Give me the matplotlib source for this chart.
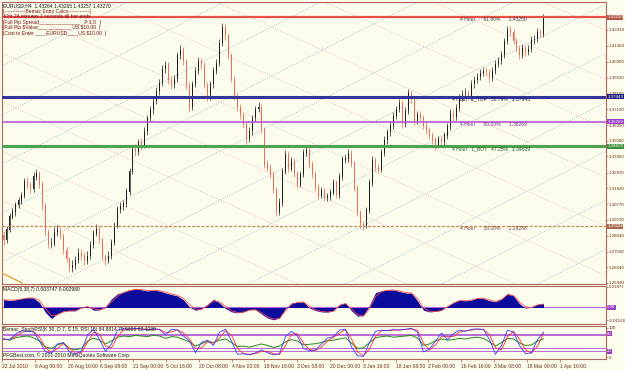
import matplotlib
matplotlib.use('Agg')
import matplotlib.pyplot as plt
import numpy as np

plt.rcParams['font.family'] = ['Liberation Sans', 'DejaVu Sans']

W, H = 625, 370
BG = '#FCFCEC'
FRAME = '#B0675C'
TXT = '#6E2A20'
FS = 3.6
FSR = 3.15

# ---------------- price data (reduced H4 bars) ----------------
first_open = 1.2870
closes = [1.2838, 1.2905, 1.2992, 1.3025, 1.3072, 1.3099, 1.3133, 1.3227, 1.3200, 1.3180,
          1.3260, 1.3280, 1.3207, 1.3072, 1.2891, 1.2811, 1.2811, 1.2891, 1.2898, 1.2864,
          1.2770, 1.2710, 1.2650, 1.2670, 1.2703, 1.2750, 1.2730, 1.2697, 1.2730, 1.2804,
          1.2878, 1.2911, 1.2838, 1.2724, 1.2697, 1.2730, 1.2818, 1.2932, 1.3039, 1.3059,
          1.3079, 1.3160, 1.3294, 1.3442, 1.3428, 1.3489, 1.3468, 1.3562, 1.3650, 1.3703,
          1.3764, 1.3831, 1.3884, 1.3978, 1.4005, 1.3904, 1.3871, 1.3911, 1.4072, 1.4106,
          1.4032, 1.3871, 1.3723, 1.3878, 1.3965, 1.4032, 1.4005, 1.3871, 1.3790, 1.3878,
          1.3965, 1.4019, 1.4153, 1.4260, 1.4200, 1.4072, 1.3911, 1.3797, 1.3723, 1.3670,
          1.3609, 1.3509, 1.3562, 1.3650, 1.3710, 1.3723, 1.3576, 1.3341, 1.3321, 1.3274,
          1.3173, 1.3025, 1.3086, 1.3294, 1.3408, 1.3314, 1.3361, 1.3280, 1.3207, 1.3274,
          1.3421, 1.3435, 1.3341, 1.3274, 1.3186, 1.3133, 1.3166, 1.3119, 1.3126, 1.3153,
          1.3220, 1.3139, 1.3260, 1.3374, 1.3381, 1.3415, 1.3347, 1.3186, 1.3019, 1.2938,
          1.2932, 1.3039, 1.3220, 1.3368, 1.3321, 1.3307, 1.3421, 1.3502, 1.3556, 1.3602,
          1.3663, 1.3710, 1.3750, 1.3609, 1.3697, 1.3817, 1.3777, 1.3629, 1.3676, 1.3650,
          1.3602, 1.3569, 1.3535, 1.3502, 1.3468, 1.3509, 1.3489, 1.3535, 1.3596, 1.3683,
          1.3656, 1.3717, 1.3784, 1.3811, 1.3817, 1.3790, 1.3878, 1.3904, 1.3925, 1.3952,
          1.3965, 1.3958, 1.3918, 1.3965, 1.4012, 1.4032, 1.4072, 1.4166, 1.4240, 1.4227,
          1.4166, 1.4119, 1.4072, 1.4119, 1.4092, 1.4113, 1.4173, 1.4180, 1.4227, 1.4213,
          1.4327]
highs = [1.2895, 1.2930, 1.3015, 1.3050, 1.3090, 1.3125, 1.3160, 1.3250, 1.3255, 1.3225,
         1.3290, 1.3310, 1.3300, 1.3230, 1.3085, 1.2910, 1.2850, 1.2920, 1.2935, 1.2920,
         1.2880, 1.2790, 1.2725, 1.2700, 1.2730, 1.2780, 1.2775, 1.2755, 1.2760, 1.2830,
         1.2905, 1.2945, 1.2930, 1.2855, 1.2745, 1.2760, 1.2840, 1.2955, 1.3065, 1.3090,
         1.3105, 1.3185, 1.3320, 1.3470, 1.3475, 1.3515, 1.3520, 1.3590, 1.3675, 1.3730,
         1.3790, 1.3860, 1.3910, 1.4005, 1.4035, 1.4025, 1.3930, 1.3940, 1.4095, 1.4140,
         1.4125, 1.4050, 1.3890, 1.3900, 1.3990, 1.4060, 1.4055, 1.4025, 1.3895, 1.3900,
         1.3990, 1.4045, 1.4180, 1.4285, 1.4280, 1.4220, 1.4090, 1.3935, 1.3820, 1.3745,
         1.3690, 1.3630, 1.3590, 1.3675, 1.3735, 1.3760, 1.3745, 1.3595, 1.3370, 1.3345,
         1.3295, 1.3190, 1.3115, 1.3320, 1.3435, 1.3430, 1.3390, 1.3385, 1.3300, 1.3300,
         1.3445, 1.3470, 1.3455, 1.3365, 1.3295, 1.3210, 1.3190, 1.3185, 1.3150, 1.3180,
         1.3245, 1.3240, 1.3285, 1.3400, 1.3410, 1.3445, 1.3440, 1.3365, 1.3205, 1.3040,
         1.2965, 1.3060, 1.3245, 1.3395, 1.3390, 1.3345, 1.3445, 1.3530, 1.3580, 1.3630,
         1.3690, 1.3735, 1.3780, 1.3770, 1.3725, 1.3845, 1.3840, 1.3795, 1.3700, 1.3700,
         1.3670, 1.3625, 1.3590, 1.3560, 1.3525, 1.3535, 1.3530, 1.3560, 1.3620, 1.3710,
         1.3705, 1.3745, 1.3810, 1.3840, 1.3850, 1.3840, 1.3905, 1.3930, 1.3955, 1.3980,
         1.3995, 1.3990, 1.3980, 1.3990, 1.4040, 1.4060, 1.4100, 1.4190, 1.4270, 1.4265,
         1.4250, 1.4190, 1.4140, 1.4145, 1.4140, 1.4140, 1.4200, 1.4210, 1.4255, 1.4250,
         1.4345]
lows = [1.2805, 1.2815, 1.2890, 1.2975, 1.3000, 1.3050, 1.3080, 1.3115, 1.3175, 1.3150,
        1.3160, 1.3240, 1.3185, 1.3040, 1.2860, 1.2785, 1.2780, 1.2795, 1.2865, 1.2840,
        1.2745, 1.2690, 1.2620, 1.2625, 1.2645, 1.2685, 1.2705, 1.2670, 1.2675, 1.2710,
        1.2785, 1.2860, 1.2815, 1.2700, 1.2670, 1.2680, 1.2710, 1.2800, 1.2915, 1.3015,
        1.3035, 1.3060, 1.3140, 1.3275, 1.3400, 1.3405, 1.3440, 1.3450, 1.3540, 1.3625,
        1.3680, 1.3745, 1.3805, 1.3865, 1.3955, 1.3880, 1.3845, 1.3850, 1.3890, 1.4050,
        1.4010, 1.3845, 1.3695, 1.3705, 1.3860, 1.3945, 1.3980, 1.3850, 1.3765, 1.3770,
        1.3855, 1.3945, 1.4000, 1.4135, 1.4175, 1.4050, 1.3890, 1.3775, 1.3700, 1.3645,
        1.3585, 1.3480, 1.3490, 1.3540, 1.3630, 1.3690, 1.3550, 1.3320, 1.3295, 1.3250,
        1.3150, 1.3000, 1.3005, 1.3065, 1.3275, 1.3290, 1.3295, 1.3255, 1.3185, 1.3190,
        1.3255, 1.3400, 1.3320, 1.3250, 1.3165, 1.3110, 1.3115, 1.3095, 1.3100, 1.3105,
        1.3135, 1.3115, 1.3120, 1.3240, 1.3350, 1.3360, 1.3325, 1.3165, 1.2995, 1.2915,
        1.2905, 1.2915, 1.3020, 1.3200, 1.3300, 1.3285, 1.3290, 1.3400, 1.3480, 1.3535,
        1.3580, 1.3645, 1.3690, 1.3585, 1.3590, 1.3680, 1.3755, 1.3605, 1.3610, 1.3630,
        1.3580, 1.3545, 1.3515, 1.3480, 1.3440, 1.3450, 1.3465, 1.3470, 1.3515, 1.3575,
        1.3635, 1.3640, 1.3700, 1.3765, 1.3790, 1.3770, 1.3770, 1.3855, 1.3885, 1.3905,
        1.3930, 1.3935, 1.3895, 1.3900, 1.3945, 1.3990, 1.4015, 1.4055, 1.4145, 1.4200,
        1.4145, 1.4095, 1.4050, 1.4055, 1.4070, 1.4075, 1.4095, 1.4150, 1.4160, 1.4190,
        1.4195]

# ---------------- indicator data (every second bar) ----------------
macd_hist = [0.0072, 0.0062, 0.0070, 0.0082, 0.0090, 0.0086, 0.0045, -0.0045, -0.0100, -0.0055,
             -0.0032, -0.0030, -0.0030, 0.0005, 0.0012, -0.0025, -0.0022, 0.0008, 0.0078, 0.0125,
             0.0140, 0.0160, 0.0168, 0.0160, 0.0150, 0.0158, 0.0150, 0.0132, 0.0118, 0.0105,
             0.0070, 0.0005, -0.0025, -0.0012, 0.0030, 0.0075, 0.0042, -0.0008, -0.0040, -0.0048,
             -0.0040, -0.0018, -0.0020, -0.0060, -0.0095, -0.0112, -0.0095, -0.0008, 0.0042, 0.0048,
             0.0050, -0.0004, -0.0028, -0.0040, -0.0042, -0.0030, 0.0030, 0.0040, -0.0030, -0.0078,
             -0.0075, 0.0020, 0.0135, 0.0152, 0.0158, 0.0160, 0.0145, 0.0132, 0.0130, 0.0060,
             -0.0025, -0.0040, -0.0035, -0.0025, 0.0015, 0.0048, 0.0068, 0.0060, 0.0068, 0.0088,
             0.0082, 0.0062, 0.0052, 0.0078, 0.0128, 0.0105, 0.0035, -0.0005, 0.0002, 0.0030,
             0.0037]
macd_signal = [0.0070, 0.0066, 0.0068, 0.0076, 0.0085, 0.0087, 0.0062, -0.0010, -0.0075, -0.0068,
               -0.0040, -0.0031, -0.0030, -0.0008, 0.0008, -0.0012, -0.0022, -0.0005, 0.0050, 0.0105,
               0.0135, 0.0152, 0.0165, 0.0162, 0.0154, 0.0156, 0.0152, 0.0138, 0.0122, 0.0110,
               0.0082, 0.0025, -0.0015, -0.0016, 0.0015, 0.0060, 0.0052, 0.0010, -0.0030, -0.0045,
               -0.0042, -0.0025, -0.0020, -0.0048, -0.0085, -0.0106, -0.0100, -0.0030, 0.0028, 0.0046,
               0.0050, 0.0010, -0.0022, -0.0036, -0.0042, -0.0033, 0.0015, 0.0037, -0.0012, -0.0065,
               -0.0076, -0.0010, 0.0100, 0.0145, 0.0156, 0.0159, 0.0150, 0.0136, 0.0131, 0.0080,
               -0.0005, -0.0035, -0.0036, -0.0028, 0.0005, 0.0038, 0.0062, 0.0062, 0.0066, 0.0082,
               0.0084, 0.0068, 0.0055, 0.0072, 0.0115, 0.0110, 0.0050, 0.0005, 0.0000, 0.0022,
               0.0030]
stoch_k = [62, 60, 78, 90, 88, 86, 55, 18, 14, 45, 50, 18, 10, 22, 75, 95, 60, 20, 45, 92,
           97, 95, 98, 96, 92, 97, 94, 76, 95, 92, 72, 55, 15, 50, 58, 40, 85, 95, 55, 10,
           12, 8, 15, 25, 15, 8, 12, 70, 88, 72, 30, 22, 25, 45, 65, 70, 92, 95, 35, 5,
           3, 50, 88, 92, 90, 94, 92, 95, 98, 85, 18, 28, 55, 82, 60, 80, 92, 88, 95, 96,
           94, 60, 10, 40, 92, 85, 40, 12, 15, 60, 85]
stoch_d = [60, 61, 70, 84, 89, 87, 68, 32, 16, 30, 46, 30, 14, 16, 50, 85, 78, 38, 32, 70,
           93, 96, 96, 97, 94, 94, 95, 84, 86, 93, 82, 62, 30, 32, 52, 48, 65, 90, 75, 30,
           12, 10, 12, 20, 20, 12, 10, 40, 78, 80, 48, 26, 23, 35, 55, 68, 82, 94, 62, 18,
           5, 28, 70, 90, 91, 92, 93, 94, 96, 92, 48, 24, 42, 70, 70, 70, 86, 90, 92, 95,
           95, 76, 32, 25, 70, 88, 62, 25, 14, 38, 79.5]
rsi = [62, 58, 66, 70, 72, 66, 55, 35, 30, 42, 48, 30, 25, 30, 55, 65, 58, 45, 55, 68,
       72, 70, 74, 72, 70, 75, 72, 64, 70, 68, 60, 52, 38, 46, 54, 50, 58, 62, 50, 36,
       38, 34, 40, 45, 40, 33, 38, 52, 60, 55, 42, 44, 46, 50, 56, 58, 62, 66, 48, 30,
       32, 50, 66, 70, 72, 68, 70, 72, 74, 65, 40, 45, 56, 62, 58, 60, 64, 62, 66, 68,
       64, 52, 38, 50, 64, 62, 48, 40, 42, 55, 62.4]

price_ticks = [1.42410, 1.41360, 1.40300, 1.39230, 1.38180, 1.37100, 1.36050, 1.35000, 1.33950,
               1.32870, 1.31820, 1.30770, 1.29720, 1.28640, 1.27590, 1.26540, 1.25490]
date_labels = ['22 Jul 2010', '6 Aug 00:00', '20 Aug 16:00', '6 Sep 08:00', '21 Sep 00:00',
               '5 Oct 16:00', '20 Oct 08:00', '4 Nov 00:00', '18 Nov 16:00', '3 Dec 08:00',
               '20 Dec 00:00', '3 Jan 16:00', '18 Jan 08:00', '2 Feb 00:00', '16 Feb 16:00',
               '3 Mar 08:00', '18 Mar 00:00', '1 Apr 16:00']

fib_prices = [1.43250, 1.37943, 1.36269, 1.34629, 1.29288]
fib_texts = ['4 Hour      61.80%      1.43250', '4 Hour   1_TOP   52.79%   1.37943',
             '4 Hour      50.00%      1.36269', '4 Hour   1_BOT   47.25%   1.34629',
             '4 Hour      38.20%      1.29288']
fib_labels = ['1.43250', '1.37943', '1.36269', '1.34629', '1.29288']
trend_x = [-0.5, 6.2]
trend_y = [1.2616, 1.2549]
stoch_levels = [80, 75, 30, 20]

# ---------------- figure ----------------
fig = plt.figure(figsize=(W / 100, H / 100), dpi=100, facecolor=BG)


def px_axes(l, t, r, b):
    return fig.add_axes([l / W, 1 - b / H, (r - l) / W, (b - t) / H])


def ftext(px, py, s, **kw):
    kw.setdefault('fontsize', FS)
    kw.setdefault('va', 'center')
    fig.text(px / W, 1 - py / H, s, **kw)


ax = px_axes(2, 2, 606, 284)
ax2 = px_axes(2, 286, 606, 324)
ax3 = px_axes(2, 326, 606, 359)

XMAX = -0.5 + 604 / 3
for a in (ax, ax2, ax3):
    a.set_facecolor(BG)
    a.set_xlim(-0.5, XMAX)
    for s in a.spines.values():
        s.set_color(FRAME)
        s.set_linewidth(0.8)
    a.yaxis.tick_right()
    a.tick_params(axis='y', direction='out', length=1.2, width=0.5, colors=FRAME,
                  labelcolor=TXT, labelsize=FSR, pad=0.6)
    a.tick_params(axis='x', bottom=False, labelbottom=False)

# ---------------- main price panel ----------------
ax.set_ylim(1.2542, 1.4428)
ax.set_yticks(price_ticks)
ax.set_yticklabels([f'{v:.5f}' for v in price_ticks])

# Gann-style diagonal grid
gx = np.array([-0.5, XMAX])
up_base, up_step, up_slope = 1.2682, 0.0328, 0.00102
dn_base, dn_step, dn_slope = 1.4094, 0.0328, -0.000903
gx0 = -1.167
for k in range(-7, 10):
    ax.plot(gx, up_base + up_step * k + up_slope * (gx - gx0), color='#9DBAD8', lw=0.6,
            ls=(0, (1.2, 1.8)), zorder=1)
for k in range(-8, 8):
    ax.plot(gx, dn_base + dn_step * k + dn_slope * (gx - gx0), color='#F2B6C6', lw=0.6,
            ls=(0, (1.2, 1.8)), zorder=1)

n = min(len(closes), len(highs), len(lows))
c = np.array(closes[:n])
o = np.array([first_open] + closes[:n - 1])
hi = np.array(highs[:n])
lo = np.array(lows[:n])
idx = np.arange(n)
up = c >= o
cols = np.where(up, '#1E1E1E', '#EE6A56')
ax.vlines(idx, lo, hi, colors=cols, linewidth=0.5, zorder=3)
ax.bar(idx, np.abs(c - o) + 0.0002, bottom=np.minimum(o, c), width=0.6, color=cols,
       linewidth=0, zorder=3)

fib_colors = ['#E8504A', '#34349A', '#B45AD8', '#4FA24F', '#C88A66']
fib_lw = [1.6, 2.2, 1.2, 2.2, 0.9]
fib_txtc = ['#404040', '#202060', '#7A2A9A', '#1F5A1F', '#7A4A30']
fib_box = ['#B4574A', '#23237E', '#9A3CC8', '#3C923C', '#A86A4C']
fib_tx = [460, 452, 460, 452, 460]
for p, colr, lw, tc, bc, tx, t, lab in zip(fib_prices, fib_colors, fib_lw, fib_txtc, fib_box,
                                          fib_tx, fib_texts, fib_labels):
    ls = (0, (2.5, 1.2)) if lw < 1 else '-'
    ax.axhline(p, color=colr, lw=lw, ls=ls, zorder=4)
    ax.text((tx - 2) / 604, p, t, transform=ax.get_yaxis_transform(), fontsize=FS, color=tc,
            va='top', ha='left', zorder=5)
    ax.text(1.002, p, lab, transform=ax.get_yaxis_transform(), fontsize=FSR, color='white',
            va='center', ha='left', clip_on=False, zorder=10,
            bbox=dict(boxstyle='square,pad=0.1', fc=bc, ec='none'))

ax.plot(trend_x, trend_y, color='#E0A030', lw=0.9, zorder=4)

# header / info box
ftext(3, 5.5, 'EURUSD,H4  1.43264 1.43265 1.43257 1.43270', color='#1A1A1A')
box_c = '#7A0F0F'
ftext(3, 11, '|-------------Bemac Entry Calcs-------------|', color=box_c)
ftext(3, 16, '4 Hr 24 minutes 1 seconds till bar ends', color=box_c)
ftext(3, 22.5, '|Full Pip Spread_______________   P 1.0   |', color=box_c)
ftext(3, 27.8, r'|Full Pip \$Value____________ US \$10.00  |', color=box_c)
ftext(3, 33, r'|Cost to Enter ____EURUSD____US \$10.00  |', color=box_c)

# ---------------- MACD panel ----------------
m = min(len(macd_hist), len(macd_signal))
xj = np.arange(m) * 2
ax2.set_ylim(-0.0150, 0.0195)
ax2.axhline(0, color='#B868D8', lw=0.8, zorder=1)
ax2.fill_between(xj, 0, macd_hist[:m], color='#0B0B9C', lw=0, zorder=2)
ax2.plot(xj, macd_signal[:m], color='#FF4A4A', lw=0.6, zorder=3)
ax2.set_yticks([0.01877, -0.01166])
ax2.set_yticklabels(['0.01877', '-0.01166'])
ax2.text(1.002, 0, '0.00', transform=ax2.get_yaxis_transform(), fontsize=FSR, color='white',
         va='center', ha='left', clip_on=False,
         bbox=dict(boxstyle='square,pad=0.1', fc='#9A3CC8', ec='none'))
ftext(3, 290, 'MACD(5,38,7) 0.003747 0.002980', color='#1A1A1A')

# ---------------- Stoch / RSI panel ----------------
s_n = min(len(stoch_k), len(stoch_d), len(rsi))
xs = np.arange(s_n) * 2
ax3.set_ylim(-6, 106)
for lvl in stoch_levels:
    ax3.axhline(lvl, color='#B868D8', lw=0.7, zorder=1)
for lvl in (stoch_levels[0], stoch_levels[3]):
    ax3.text(1.002, lvl, str(lvl), transform=ax3.get_yaxis_transform(), fontsize=FSR,
             color='white', va='center', ha='left', clip_on=False,
             bbox=dict(boxstyle='square,pad=0.1', fc='#9A3CC8', ec='none'))
ax3.plot(xs, rsi[:s_n], color='#228B22', lw=0.7, zorder=2)
ax3.plot(xs, stoch_d[:s_n], color='#FF3030', lw=0.6, zorder=3)
ax3.plot(xs, stoch_k[:s_n], color='#3A3AFF', lw=0.6, zorder=3)
ax3.set_yticks([100, 0])
ax3.set_yticklabels(['100', '0'])
ftext(3, 330, 'Bemac_StochRSI(K 30, D 7, S 15, RSI 15) 84.8814 79.5606 62.4080', color='#1A1A1A')
ftext(3, 355.5, 'PFGBest.com, \u00a9 2001-2010 MetaQuotes Software Corp.', color='#1A1A1A')

# date axis
slots_per_label = 32.8 / 3
date_pos = [k * slots_per_label - 0.5 for k in range(len(date_labels))]
ax3.set_xticks(date_pos)
ax3.set_xticklabels(date_labels)
ax3.tick_params(axis='x', bottom=True, labelbottom=True, direction='out', length=2, width=0.5,
                colors=FRAME, labelcolor=TXT, labelsize=FS, pad=1.5)
for lab in ax3.get_xticklabels():
    lab.set_ha('left')

fig.savefig('out.png', dpi=100, facecolor=BG)
